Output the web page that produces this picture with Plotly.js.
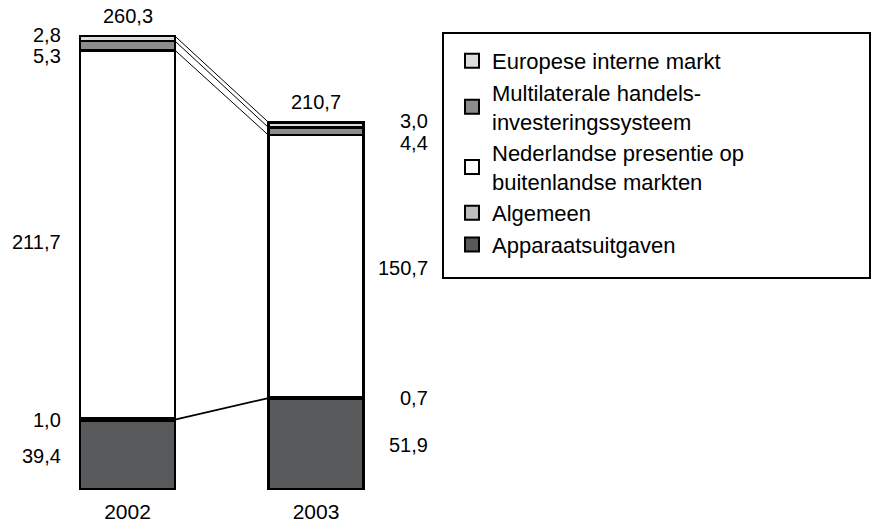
<!DOCTYPE html>
<html>
<head>
<meta charset="utf-8">
<script src="https://cdn.plot.ly/plotly-3.0.1.min.js"></script>
<style>html,body{margin:0;padding:0;background:#fff;}#chart{width:872px;height:527px;}</style>
</head>
<body>
<div id="chart"></div>
<script>
// ---- data ----
var years = ['2002', '2003'];
var seriesNames = [
  'Apparaatsuitgaven',
  'Algemeen',
  'Nederlandse presentie op<br>buitenlandse markten',
  'Multilaterale handels-<br>investeringssysteem',
  'Europese interne markt'
];
var apparaatsuitgaven = [39.4, 51.9];
var algemeen = [1.0, 0.7];
var nederlandsePresentie = [211.7, 150.7];
var multilaterale = [5.3, 4.4];
var europeseMarkt = [2.8, 3.0];
var totals = [260.3, 210.7];

// ---- style ----
var seriesValues = [apparaatsuitgaven, algemeen, nederlandsePresentie, multilaterale, europeseMarkt];
var colors = ['#58595b', '#bdbdbd', '#ffffff', '#8c8c8c', '#dcdcdc'];
var barWidth = 0.504;
// per-series label shifts (px) for [2002, 2003]
var labelYShift = [[-1, -1], [0, 0], [-8, -2], [-10, -12], [4, 4]];
var FONT = 'Liberation Sans, Arial, sans-serif';

var xs = years.map(function (y, i) { return i; });
var traces = [];
seriesValues.forEach(function (vals, s) {
  traces.push({
    type: 'bar', x: xs, y: vals, name: seriesNames[s], width: barWidth,
    marker: { color: colors[s], line: { color: '#000', width: 2.5 } },
    showlegend: false, hoverinfo: 'skip'
  });
});
// legend entries (square swatches with black outline)
seriesValues.forEach(function (vals, s) {
  traces.push({
    type: 'scatter', mode: 'markers', x: [null], y: [null], name: seriesNames[s],
    marker: { symbol: 'square', size: 14, color: colors[s], line: { color: '#000', width: 2 } },
    legendrank: 100 - s, hoverinfo: 'skip'
  });
});

// cumulative sums
var cum = seriesValues.map(function (vals, s) {
  return xs.map(function (i) {
    var t = 0; for (var k = 0; k <= s; k++) t += seriesValues[k][i]; return t;
  });
});

// connector lines between bars
[1, 2, 3, 4].forEach(function (s) {
  if (s === 1) {
    traces.push({ type: 'scatter', mode: 'lines', x: [xs[0] + barWidth / 2, xs[1] - barWidth / 2],
      y: [cum[0][0] + algemeen[0] / 2, cum[0][1] + algemeen[1] / 2], line: { color: '#000', width: 1.8 },
      showlegend: false, hoverinfo: 'skip' });
  } else {
    traces.push({ type: 'scatter', mode: 'lines', x: [xs[0] + barWidth / 2, xs[1] - barWidth / 2],
      y: [cum[s][0], cum[s][1]], line: { color: '#000', width: 1 },
      showlegend: false, hoverinfo: 'skip' });
  }
});

function fmt(v) { return v.toFixed(1).replace('.', ','); }

var annotations = [];
seriesValues.forEach(function (vals, s) {
  xs.forEach(function (i) {
    var left = i === 0;
    annotations.push({
      xref: 'x', yref: 'y',
      x: left ? xs[i] - barWidth / 2 : xs[i] + barWidth / 2,
      y: cum[s][i] - vals[i] / 2,
      text: fmt(vals[i]), showarrow: false,
      xanchor: 'right', yanchor: 'middle',
      xshift: left ? -17 : 66, yshift: labelYShift[s][i],
      font: { family: FONT, size: 20, color: '#000' }
    });
  });
});
xs.forEach(function (i) {
  annotations.push({
    xref: 'x', yref: 'y', x: xs[i], y: totals[i], text: fmt(totals[i]), showarrow: false,
    xanchor: 'center', yanchor: 'bottom', yshift: 7,
    font: { family: FONT, size: 20, color: '#000' }
  });
});

var layout = {
  width: 872, height: 527,
  margin: { l: 0, r: 0, t: 0, b: 34 },
  paper_bgcolor: '#fff', plot_bgcolor: '#fff',
  barmode: 'stack',
  showlegend: true,
  xaxis: {
    range: [-0.6764, 3.9496], tickvals: xs, ticktext: years, showgrid: false, zeroline: false,
    showline: false, ticks: '', ticklabelstandoff: 4,
    tickfont: { family: FONT, size: 21, color: '#000' }, fixedrange: true
  },
  yaxis: { range: [-2.3, 281.0], visible: false, showgrid: false, zeroline: false, fixedrange: true },
  legend: {
    x: 452 / 872, y: (493 - 40) / 493, xanchor: 'left', yanchor: 'top',
    traceorder: 'normal', bgcolor: 'rgba(0,0,0,0)', borderwidth: 0,
    font: { family: FONT, size: 22, color: '#000' }, itemclick: false
  },
  shapes: [{
    type: 'rect', xref: 'paper', yref: 'paper',
    x0: 443 / 872, x1: 870 / 872, y0: (493 - 278) / 493, y1: (493 - 33) / 493,
    line: { color: '#000', width: 2 }, fillcolor: 'rgba(0,0,0,0)'
  }],
  annotations: annotations
};

Plotly.newPlot('chart', traces, layout, { displayModeBar: false, staticPlot: true });
</script>
</body>
</html>
